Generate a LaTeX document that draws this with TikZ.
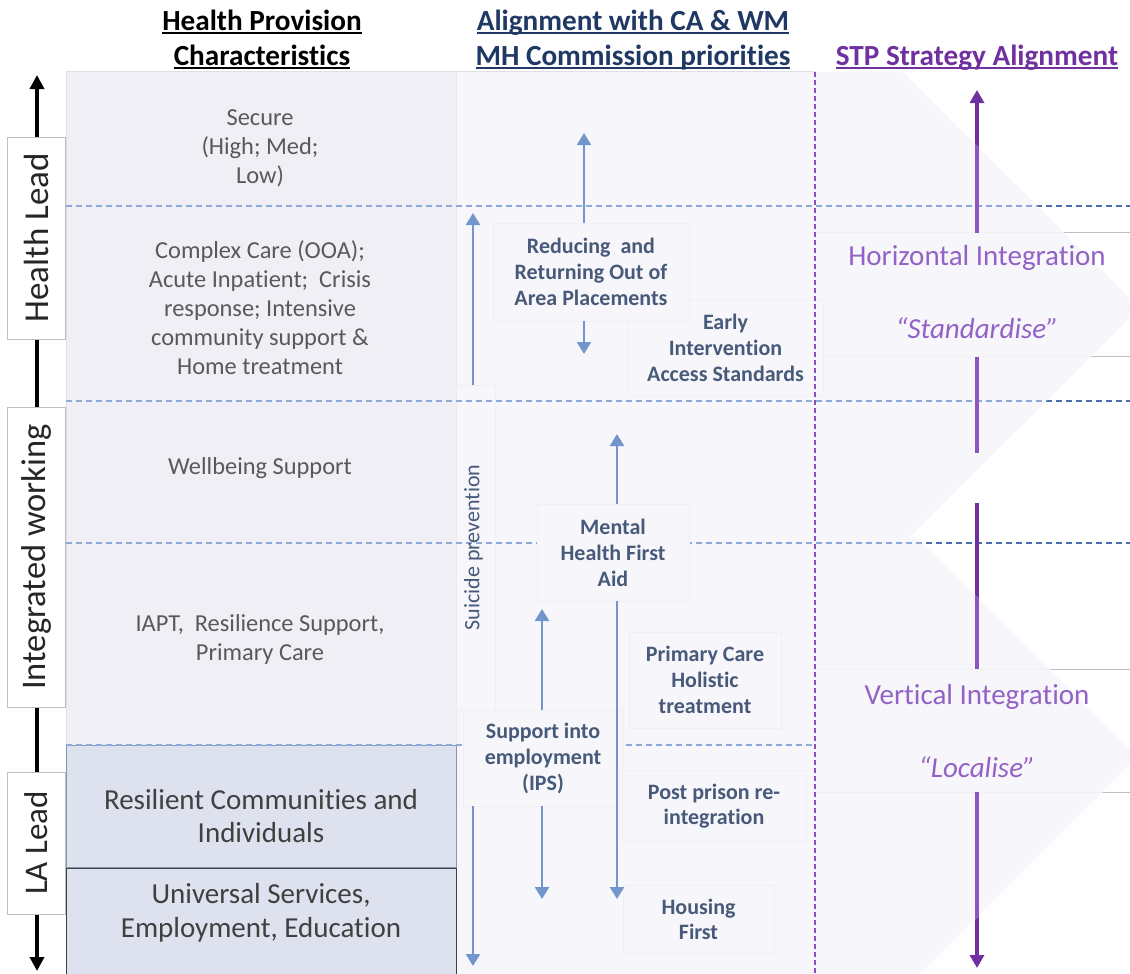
\documentclass[tikz,border=0pt]{standalone}
\usepackage{fontspec}
\setmainfont{Carlito}[Ligatures=NoCommon]
\usetikzlibrary{arrows.meta}
\definecolor{leftbg}{HTML}{F0EFF5}
\definecolor{midbg}{HTML}{F7F6FA}
\definecolor{dashlight}{HTML}{8EAADB}
\definecolor{dashdark}{HTML}{4A6FAE}
\definecolor{arrblue}{HTML}{7096CC}
\definecolor{purpdark}{HTML}{7030A0}
\definecolor{purplight}{HTML}{8C55C0}
\definecolor{purpdash}{HTML}{8A4DC0}
\definecolor{purptext}{HTML}{9262C6}
\definecolor{slate}{HTML}{475A7A}
\definecolor{navy}{HTML}{1F3864}
\definecolor{graytext}{HTML}{595959}
\definecolor{restext}{HTML}{404040}
\definecolor{resfill}{HTML}{DEE2EF}
\definecolor{resline}{HTML}{8497B0}
\definecolor{boxline}{HTML}{BFBFBF}
\definecolor{faint}{HTML}{F0F0F4}
\newcommand\hdul[1]{\setbox0\hbox{#1}\rlap{\rule[-3pt]{\wd0}{1.6pt}}\box0}
\begin{document}
\begin{tikzpicture}[x=1pt,y=-1pt,
  every node/.style={inner sep=0pt,outer sep=0pt},
  hline/.style={line width=1.5pt,dash pattern=on 6pt off 4pt},
  barrow/.style={line width=2.5pt,arrblue,-{Triangle[width=14pt,length=12pt]}},
  parrow/.style={line width=3.5pt,-{Triangle[width=14pt,length=13pt]}},
  pline/.style={line width=3.5pt},
  midbox/.style={draw=faint,fill=midbg,align=center,text=slate,font=\fontsize{22}{26}\selectfont\bfseries},
  lefttext/.style={align=center,text=graytext,font=\fontsize{24.4}{29}\selectfont},
  labox/.style={fill=resfill,line width=1pt,minimum width=390pt},
  restyle/.style={align=center,text=restext,font=\fontsize{29}{33.5}\selectfont},
  sidebox/.style={draw=boxline,fill=white,line width=1pt,rotate=90,minimum height=58pt,text=black!85},
  righttext/.style={text=purptext,font=\fontsize{29}{34}\selectfont},
  header/.style={anchor=base,font=\fontsize{29.2}{34}\selectfont\bfseries}]
\useasboundingbox (0,0) rectangle (1130,974);
% backgrounds
\fill[leftbg] (66,72) rectangle (456,745);
\fill[midbg] (456,72) -- (903,72) -- (1130,299) -- (1130,317) -- (910,537) -- (917,537) -- (1130,750) -- (1130,764) -- (920,974) -- (456,974) -- cycle;
\draw[black!12,line width=1pt] (66,72) -- (815,72);
\draw[black!12,line width=1pt] (66,72) -- (66,745);
\draw[black!8,line width=1pt] (456,72) -- (456,745);
% dashed horizontal lines (light)
\draw[hline,dashlight] (66,206) -- (1130,206);
\draw[hline,dashlight] (66,401) -- (1130,401);
\draw[hline,dashlight] (66,543) -- (1130,543);
% right text box edges (light)
\draw[faint,line width=1pt] (815,232) -- (1130,232) (815,356) -- (1130,356) (815,669) -- (1130,669) (815,792) -- (1130,792);
% purple arrows (light)
\coordinate (hTip) at (977,90);
\coordinate (vTip) at (977,968);
\coordinate (hTop) at (977,233);
\coordinate (hBot) at (977,357);
\coordinate (hEnd) at (977,453);
\coordinate (vStart) at (977,503);
\coordinate (vTop) at (977,669);
\coordinate (vBot) at (977,792);
\draw[parrow,purplight] (hTop) -- (hTip);
\draw[pline,purplight] (hBot) -- (hEnd);
\draw[pline,purplight] (vStart) -- (vTop);
\draw[parrow,purplight] (vBot) -- (vTip);
% dark parts outside the chevrons
\begin{scope}
\clip (903,72) -- (1131,72) -- (1131,299) -- cycle
      (1131,317) -- (910,537) -- (917,537) -- (1131,750) -- cycle
      (1131,764) -- (920,975) -- (1131,975) -- cycle;
\fill[white] (880,60) rectangle (1131,975);
\draw[hline,dashdark] (66,206) -- (1130,206);
\draw[hline,dashdark] (66,401) -- (1130,401);
\draw[hline,dashdark] (66,543) -- (1130,543);
\draw[boxline,line width=1pt] (815,232) -- (1130,232) (815,356) -- (1130,356) (815,669) -- (1130,669) (815,792) -- (1130,792);
\draw[parrow,purpdark] (hTop) -- (hTip);
\draw[pline,purpdark] (hBot) -- (hEnd);
\draw[pline,purpdark] (vStart) -- (vTop);
\draw[parrow,purpdark] (vBot) -- (vTip);
\end{scope}
% LA boxes
\node[labox,draw=resline,minimum height=122pt] (res) at (261,806.5) {};
\node[labox,draw=restext,minimum height=106pt] (uni) at (261,921) {};
\node[restyle] (rest) at (261,816) {Resilient Communities and\\Individuals};
\node[restyle] (unit) at (261,913) {Universal Services,\\Employment, Education};
\draw[hline,dashlight] (66,745) -- (815,745);
% left texts
\node[lefttext] (sec) at (260,148) {Secure\\(High; Med;\\Low)};
\node[lefttext] (cpx) at (260,308) {Complex Care (OOA);\\Acute Inpatient;\ \ Crisis\\response; Intensive\\community support \&\\Home treatment};
\node[lefttext] (wel) at (260,468) {Wellbeing Support};
\node[lefttext] (iapt) at (260,639) {IAPT,\ \ Resilience Support,\\Primary Care};
% middle boxes
\node[midbox,minimum width=195pt,minimum height=96pt] (early) at (725.5,348) {Early\\Intervention\\Access Standards};
\node[midbox,minimum width=196pt,minimum height=98pt] (red) at (591,272) {Reducing\ \ and\\Returning Out of\\Area Placements};
\node[draw=faint,rotate=90,minimum width=325pt,minimum height=43pt,text=slate,font=\fontsize{22}{26}\selectfont] (sui) at (473.5,547.5) {Suicide prevention};
\node[midbox,minimum width=152pt,minimum height=97pt] (mh) at (613,552.5) {Mental\\Health First\\Aid};
\node[midbox,minimum width=152pt,minimum height=96pt] (pc) at (705,680) {Primary Care\\Holistic\\treatment};
\node[midbox,minimum width=160pt,minimum height=96pt] (sup) at (543,758) {Support into\\employment\\(IPS)};
\node[midbox,minimum width=184pt,minimum height=71pt,font=\fontsize{22}{25}\selectfont\bfseries] (pp) at (714,806) {Post prison re-\\integration};
\node[midbox,minimum width=151pt,minimum height=68pt,font=\fontsize{22}{25}\selectfont\bfseries] (hf) at (698.5,919) {Housing\\First};
% blue arrows
\coordinate (redUp) at (584,133);
\coordinate (redDn) at (584,354);
\coordinate (suiUp) at (473,213);
\coordinate (suiDn) at (473,966);
\coordinate (mhUp) at (617,434);
\coordinate (mhDn) at (617,899);
\coordinate (supUp) at (542,609);
\coordinate (supDn) at (542,899);
\draw[barrow] (red.north -| redUp) -- (redUp);
\draw[barrow] (red.south -| redDn) -- (redDn);
\draw[barrow] (sui.east -| suiUp) -- (suiUp);
\draw[barrow] (sup.south -| suiDn) -- (suiDn);
\draw[barrow] (mh.north -| mhUp) -- (mhUp);
\draw[barrow] (mh.south -| mhDn) -- (mhDn);
\draw[barrow] (sup.north -| supUp) -- (supUp);
\draw[barrow] (sup.south -| supDn) -- (supDn);
% purple dashed divider
\draw[purpdash,line width=1.5pt,dash pattern=on 5pt off 3pt] (815,72) -- (815,974);
% right texts
\node[righttext] (hi) at (977,258) {Horizontal Integration};
\node[righttext,font=\fontsize{29}{34}\selectfont\itshape] (std) at (977,328) {“Standardise”};
\node[righttext] (vi) at (977,697) {Vertical Integration};
\node[righttext,font=\fontsize{29}{34}\selectfont\itshape] (loc) at (977,767) {“Localise”};
% headers
\node[header] (h1a) at (262,31) {\hdul{Health Provision}};
\node[header] (h1b) at (262,66) {\hdul{Characteristics}};
\node[header,text=navy] (h2a) at (633,31) {\hdul{Alignment with CA \& WM}};
\node[header,text=navy] (h2b) at (633,66) {\hdul{MH Commission priorities}};
\node[header,text=purpdark] (h3) at (977,66) {\hdul{STP Strategy Alignment}};
% left axis
\coordinate (axTop) at (37,75);
\coordinate (axBot) at (37,971);
\draw[line width=3.5pt,{Triangle[width=14pt,length=14pt]}-{Triangle[width=14pt,length=14pt]}] (axTop) -- (axBot);
\node[sidebox,minimum width=202pt,font=\fontsize{35}{40}\selectfont] (hl) at (36,238) {Health Lead};
\node[sidebox,minimum width=300pt,font=\fontsize{34.5}{40}\selectfont] (iw) at (36,557) {Integrated working};
\node[sidebox,minimum width=142pt,font=\fontsize{33}{38}\selectfont] (la) at (36,843) {LA Lead};
\end{tikzpicture}
\end{document}
